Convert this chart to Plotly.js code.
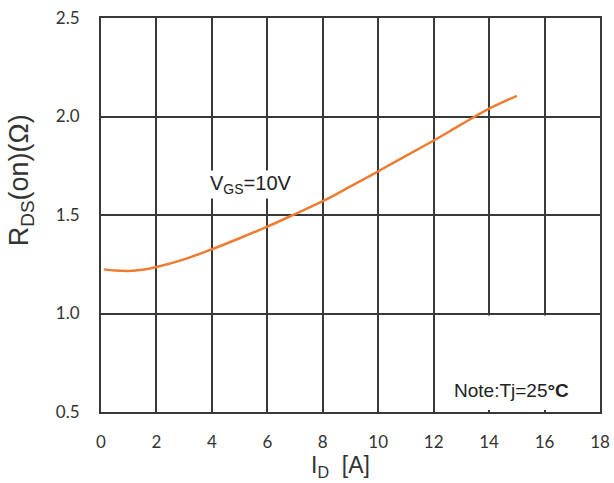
<!DOCTYPE html>
<html>
<head>
<meta charset="utf-8">
<script src="https://cdn.plot.ly/plotly-3.0.1.min.js"></script>
<style>html,body{margin:0;padding:0;background:#fff;}#chart{width:614px;height:483px;}</style>
</head>
<body>
<div id="chart"></div>
<script>
const idValues = [0.1, 0.5, 1, 1.5, 2, 3, 4, 5, 6, 7, 8, 9, 10, 11, 12, 13, 14, 15];
const rdsValues = [1.224, 1.218, 1.216, 1.222, 1.236, 1.275, 1.326, 1.382, 1.441, 1.505, 1.570, 1.645, 1.722, 1.800, 1.878, 1.960, 2.040, 2.105];
const xTicks = [0, 2, 4, 6, 8, 10, 12, 14, 16, 18];
const yTicks = [0.5, 1.0, 1.5, 2.0, 2.5];
const yTickText = ['0.5', '1.0', '1.5', '2.0', '2.5'];

const trace = {
  x: idValues, y: rdsValues, type: 'scatter', mode: 'lines',
  line: {color: '#ED7D31', width: 2.5, shape: 'spline'}, hoverinfo: 'skip'
};

const gridCol = '#383838';
const layout = {
  width: 614, height: 483,
  margin: {l: 101, r: 14, t: 18, b: 71},
  paper_bgcolor: '#fff', plot_bgcolor: '#fff',
  showlegend: false,
  font: {family: 'Lato, "Open Sans", sans-serif', color: '#333', size: 16},
  xaxis: {
    range: [0, 18], tickvals: xTicks, ticktext: xTicks.map(String),
    showgrid: true, gridcolor: gridCol, gridwidth: 2,
    showline: true, linecolor: gridCol, linewidth: 2, mirror: true,
    zeroline: false, ticks: '', ticklabelstandoff: 14,
    tickfont: {family: 'Lato, "Open Sans", sans-serif', size: 17, color: '#333'}
  },
  yaxis: {
    range: [0.5, 2.5], tickvals: yTicks, ticktext: yTickText,
    showgrid: true, gridcolor: gridCol, gridwidth: 2,
    showline: true, linecolor: gridCol, linewidth: 2, mirror: true,
    zeroline: false, ticks: '', ticklabelstandoff: 16,
    tickfont: {family: 'Lato, "Open Sans", sans-serif', size: 17, color: '#333'}
  },
  shapes: [{
    type: 'rect', xref: 'x', yref: 'y', x0: 12.06, x1: 17.94, y0: 0.51, y1: 0.99,
    fillcolor: '#fff', line: {width: 0}, layer: 'above'
  }],
  annotations: [
    {x: 5.4, y: 1.655, xref: 'x', yref: 'y', text: 'V<sub>GS</sub>=10V', showarrow: false,
      bgcolor: '#fff', font: {family: '"Liberation Sans", Arial, sans-serif', size: 20, color: '#222'}},
    {x: 14.8, y: 0.607, xref: 'x', yref: 'y', text: 'Note:Tj=25<b>°C</b>', showarrow: false,
      font: {family: '"Liberation Sans", Arial, sans-serif', size: 19, color: '#222'}},
    {x: -0.161, y: 1.675, xref: 'paper', yref: 'y', textangle: -90, xanchor: 'center', yanchor: 'middle',
      text: 'R<sub>DS</sub>(on)(Ω)', showarrow: false,
      font: {family: '"Liberation Sans", Arial, sans-serif', size: 27, color: '#333'}},
    {x: 8.65, y: 0, xref: 'x', yref: 'paper', yshift: -54, xanchor: 'center', yanchor: 'middle',
      text: 'I<sub>D</sub>\u00a0\u00a0[A]', showarrow: false,
      font: {family: '"Liberation Sans", Arial, sans-serif', size: 23, color: '#333'}}
  ]
};

Plotly.newPlot('chart', [trace], layout, {displayModeBar: false, staticPlot: true});
</script>
</body>
</html>
